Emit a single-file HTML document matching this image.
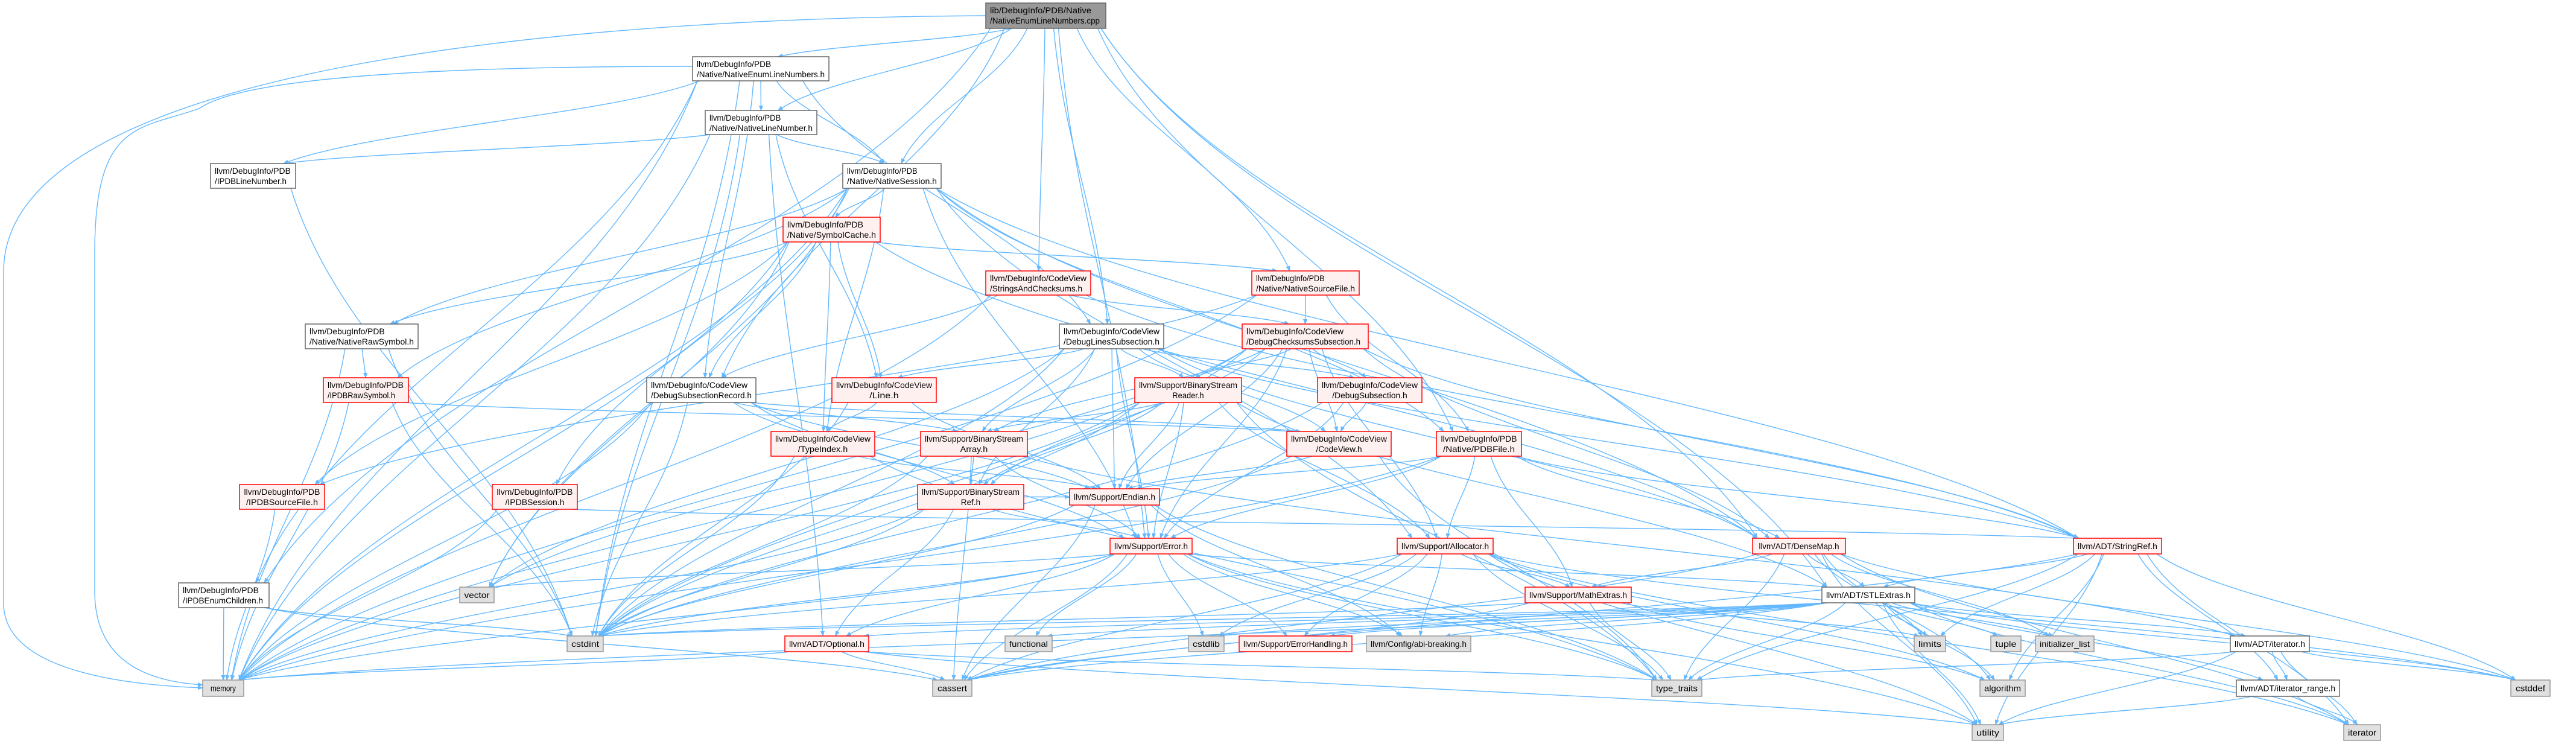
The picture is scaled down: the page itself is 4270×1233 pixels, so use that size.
<!DOCTYPE html>
<html><head><meta charset="utf-8"><style>
html,body{margin:0;padding:0;background:#fff;width:4270px;height:1233px;overflow:hidden}
svg{display:block}
text{font-family:"Liberation Sans",sans-serif;font-size:14px;fill:#000}
</style></head><body>
<svg id="g" xmlns="http://www.w3.org/2000/svg" width="4270" height="1233" viewBox="0 0 4270 1233">
<defs><marker id="a" viewBox="0 0 10 10" refX="9" refY="5" markerWidth="9" markerHeight="9" markerUnits="userSpaceOnUse" orient="auto"><path d="M0,1 L10,5 L0,9 z" fill="#63b8ff"/></marker></defs>
<g id="edges" fill="none" stroke="#63b8ff" stroke-width="1.4"></g>
<g id="nodes">
<text x="0" y="0"> </text>
</g>
</svg>
<script>
var N={
cpp:[1634,5,1833,47,'c',['lib/DebugInfo/PDB/Native','/NativeEnumLineNumbers.cpp']],
neln:[1148,94,1374,134,'w',['llvm/DebugInfo/PDB','/Native/NativeEnumLineNumbers.h']],
nln:[1169,183,1354,223,'w',['llvm/DebugInfo/PDB','/Native/NativeLineNumber.h']],
ipln:[349,271,490,312,'w',['llvm/DebugInfo/PDB','/IPDBLineNumber.h']],
nses:[1397,271,1560,312,'w',['llvm/DebugInfo/PDB','/Native/NativeSession.h']],
symc:[1298,360,1459,401,'r',['llvm/DebugInfo/PDB','/Native/SymbolCache.h']],
sac:[1634,449,1808,489,'r',['llvm/DebugInfo/CodeView','/StringsAndChecksums.h']],
nsf:[2075,449,2253,489,'r',['llvm/DebugInfo/PDB','/Native/NativeSourceFile.h']],
nraw:[506,537,693,578,'w',['llvm/DebugInfo/PDB','/Native/NativeRawSymbol.h']],
dls:[1756,537,1929,578,'w',['llvm/DebugInfo/CodeView','/DebugLinesSubsection.h']],
dcs:[2059,537,2268,578,'r',['llvm/DebugInfo/CodeView','/DebugChecksumsSubsection.h']],
iraw:[536,626,677,667,'r',['llvm/DebugInfo/PDB','/IPDBRawSymbol.h']],
dsr:[1072,626,1253,667,'w',['llvm/DebugInfo/CodeView','/DebugSubsectionRecord.h']],
line:[1379,626,1552,667,'r',['llvm/DebugInfo/CodeView','/Line.h'],1],
bsr:[1881,626,2058,667,'r',['llvm/Support/BinaryStream','Reader.h'],1],
dsub:[2184,626,2357,667,'r',['llvm/DebugInfo/CodeView','/DebugSubsection.h'],1],
tidx:[1278,715,1450,756,'r',['llvm/DebugInfo/CodeView','/TypeIndex.h'],1],
bsa:[1526,715,1703,756,'r',['llvm/Support/BinaryStream','Array.h'],1],
cv:[2133,715,2306,756,'r',['llvm/DebugInfo/CodeView','/CodeView.h'],1],
pdbf:[2381,715,2522,756,'r',['llvm/DebugInfo/PDB','/Native/PDBFile.h'],1],
isf:[397,803,538,844,'r',['llvm/DebugInfo/PDB','/IPDBSourceFile.h'],1],
ises:[816,803,957,844,'r',['llvm/DebugInfo/PDB','/IPDBSession.h'],1],
bsref:[1521,803,1697,844,'r',['llvm/Support/BinaryStream','Ref.h'],1],
endian:[1773,810,1922,837,'r',['llvm/Support/Endian.h']],
err:[1840,892,1976,918,'r',['llvm/Support/Error.h']],
alloc:[2316,892,2475,918,'r',['llvm/Support/Allocator.h']],
dmap:[2905,892,3059,918,'r',['llvm/ADT/DenseMap.h']],
sref:[3437,892,3583,918,'r',['llvm/ADT/StringRef.h']],
vector:[762,973,819,999,'g',['vector']],
ienum:[296,966,446,1007,'w',['llvm/DebugInfo/PDB','/IPDBEnumChildren.h']],
math:[2528,973,2704,999,'r',['llvm/Support/MathExtras.h']],
stl:[3020,973,3174,999,'w',['llvm/ADT/STLExtras.h']],
cstdint:[940,1054,1000,1080,'g',['cstdint']],
opt:[1301,1054,1440,1080,'r',['llvm/ADT/Optional.h']],
func:[1666,1054,1744,1080,'g',['functional']],
cstdlib:[1970,1054,2029,1080,'g',['cstdlib']],
eh:[2054,1054,2241,1080,'r',['llvm/Support/ErrorHandling.h']],
abi:[2265,1054,2438,1080,'g',['llvm/Config/abi-breaking.h']],
limits:[3173,1054,3225,1080,'g',['limits']],
tuple:[3300,1054,3350,1080,'g',['tuple']],
il:[3374,1054,3471,1080,'g',['initializer_list']],
ith:[3697,1054,3828,1080,'w',['llvm/ADT/iterator.h']],
memory:[336,1127,404,1154,'g',['memory']],
cassert:[1546,1127,1611,1154,'g',['cassert']],
tt:[2738,1127,2821,1154,'g',['type_traits']],
algo:[3282,1127,3357,1154,'g',['algorithm']],
itr:[3707,1127,3878,1154,'w',['llvm/ADT/iterator_range.h']],
cstddef:[4162,1127,4227,1154,'g',['cstddef']],
utility:[3269,1201,3321,1227,'g',['utility']],
iter:[3885,1201,3946,1227,'g',['iterator']]
};
var E={
cpp:['neln','nln','nses','nsf','dls','dsr','sac','ienum','dmap','stl','pdbf','err'],
neln:['nln','ipln','ienum','nses','dsr','dls','memory','cstdint'],
nln:['ipln','nses','line','opt','cstdint','memory'],
ipln:['cstdint'],
nses:['symc','nraw','ises','iraw','pdbf','dmap','sref','alloc','err','memory','tidx','vector'],
symc:['nraw','nsf','dsr','line','tidx','isf','memory','vector','dmap'],
nraw:['iraw','memory','cstdint'],
iraw:['memory','cv','cstdint'],
isf:['memory'],
ises:['memory','sref'],
ienum:['memory','cstdint','cassert'],
sac:['dsr','dcs','sref','memory'],
nsf:['dcs','pdbf','memory','isf'],
dls:['line','bsa','bsr','bsref','dsub','cv','endian','err','cstdint','vector','sref','dmap'],
dcs:['bsa','bsr','bsref','dsub','cv','dmap','sref','alloc','endian','err','cstdint','memory','vector'],
dsr:['cv','bsa','bsref','err','memory','cstdint','endian'],
line:['tidx','endian','cstdint'],
bsr:['bsa','bsref','endian','err','alloc','cstdint','memory','tt','stl'],
dsub:['cv','err','cstdint'],
tidx:['endian','cstdint','tt'],
bsa:['bsref','err','cassert','cstdint','ith'],
cv:['tt','endian','cstdint'],
pdbf:['alloc','math','err','endian','memory','dmap','sref'],
bsref:['err','opt','cstdint','memory','endian'],
endian:['cstdint','cassert','tt','abi'],
err:['vector','eh','abi','stl','cassert','cstdlib','func','memory','tt','utility','opt','cstdint'],
alloc:['math','eh','abi','cstddef','cstdlib','cassert','cstdint','algo','tt','utility','iter'],
math:['cassert','cstdint','limits','tt','algo'],
dmap:['stl','math','cassert','algo','cstddef','il','iter','tt','utility','limits'],
sref:['stl','itr','algo','cassert','cstddef','limits','tt','utility','iter'],
stl:['opt','func','cstdint','cassert','cstdlib','abi','eh','ith','itr','limits','tuple','il','algo','tt','utility','cstddef','iter','memory'],
ith:['itr','cstddef','iter','tt','utility'],
itr:['iter','utility'],
opt:['memory','cassert','tt','utility']
};
var ns='http://www.w3.org/2000/svg';
var eg=document.getElementById('edges'),ng=document.getElementById('nodes');
function el(t,a,p){var e=document.createElementNS(ns,t);for(var k in a)e.setAttribute(k,a[k]);p.appendChild(e);return e;}
function cl(v,a,b){return Math.max(a,Math.min(b,v));}
function path(d){el('path',{d:d,'marker-end':'url(#a)'},eg);}
for(var s in E){var S=N[s];var scx=(S[0]+S[2])/2,scy=(S[1]+S[3])/2;
E[s].forEach(function(t){var T=N[t];var tcx=(T[0]+T[2])/2,tcy=(T[1]+T[3])/2;
if(T[1]>S[3]+4){var sx=cl(scx+(tcx-scx)*0.12,S[0]+8,S[2]-8),sy=S[3];
var tx=cl(tcx+(scx-tcx)*0.06,T[0]+8,T[2]-8),ty=T[1];
var dy=ty-sy,dx=tx-sx;
path('M'+sx+','+sy+' C'+(sx+dx*0.2)+','+(sy+dy*0.4)+' '+(sx+dx*0.8)+','+(ty-dy*0.4)+' '+tx+','+ty);}
else{
var left=tcx<scx;var sx=left?S[0]:S[2],tx=left?T[2]:T[0];
var sy=scy,ty=tcy;var mx=(sx+tx)/2;
path('M'+sx+','+sy+' C'+mx+','+sy+' '+mx+','+ty+' '+tx+','+ty);}
});}
path('M1634,26 C900,30 6,120 6,450 L6,1000 C6,1110 200,1135 336,1140');
path('M1148,110 C700,110 400,130 330,180 C230,215 157,200 157,420 L157,980 C157,1100 250,1130 336,1135');
var F={c:['#999999','#666666'],w:['#ffffff','#666666'],r:['#fff0f0','#ff0000'],g:['#e0e0e0','#999999']};
for(var k in N){var n=N[k],w=n[2]-n[0],h=n[3]-n[1];
el('rect',{x:n[0],y:n[1],width:w,height:h,fill:F[n[4]][0],stroke:F[n[4]][1],'stroke-width':1.5},ng);
var L=n[5],mx=0;L.forEach(function(l){mx=Math.max(mx,l.length)});
var ratio=Math.min(1,(w-14)/(mx*7.0));
L.forEach(function(l,i){var y=L.length==1?n[1]+h/2+5:n[1]+17+i*17;
var tl=l.length*7.0*ratio;var a={y:y,textLength:tl,lengthAdjust:'spacingAndGlyphs'};
if(L.length==1||n[6]){a.x=n[0]+w/2;a['text-anchor']='middle';}else{a.x=n[0]+7;}
var t=el('text',a,ng);t.textContent=l;});}
</script>
</body></html>
